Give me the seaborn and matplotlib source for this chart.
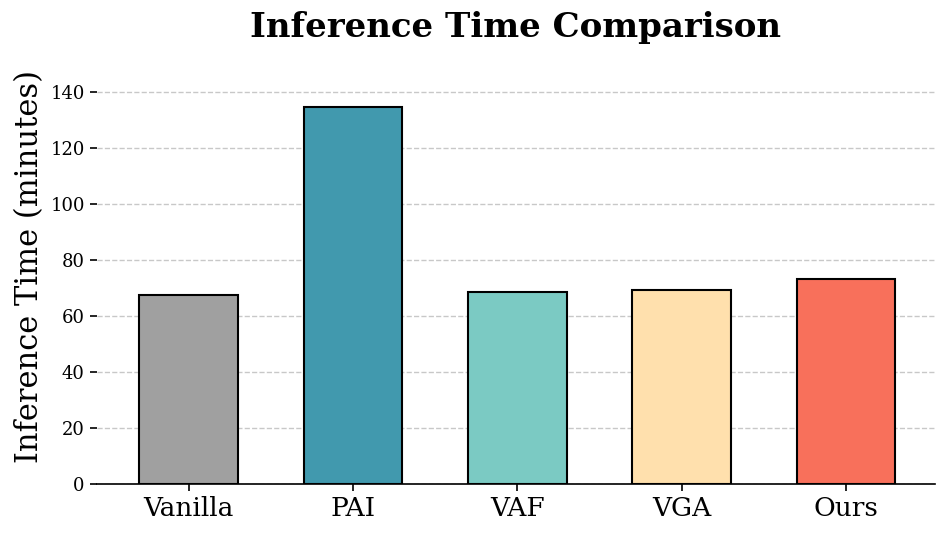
import pandas as pd
import matplotlib
matplotlib.use("Agg")
import matplotlib.pyplot as plt
import seaborn as sns

# data
methods = ["Vanilla", "PAI", "VAF", "VGA", "Ours"]
times = [67.5, 134.6, 68.6, 69.3, 73.3]
colors = ["#a0a0a0", "#4199ae", "#7bcac3", "#ffe0ad", "#f8705b"]

df = pd.DataFrame({"Method": methods, "Time": times})

sns.set_style("white")
plt.rcParams["font.family"] = ["DejaVu Serif"]
plt.rcParams["text.color"] = "black"
plt.rcParams["axes.labelcolor"] = "black"
plt.rcParams["xtick.color"] = "black"
plt.rcParams["ytick.color"] = "black"

fig, ax = plt.subplots(figsize=(9.47, 5.37), dpi=100)
sns.barplot(data=df, x="Method", y="Time", hue="Method", palette=colors,
            width=0.6, edgecolor="black", linewidth=1.5, saturation=1,
            legend=False, ax=ax, zorder=3)

ax.set_ylim(0, 155)
ax.set_xlim(-0.56, 4.54)
ax.set_yticks(range(0, 141, 20))
ax.yaxis.grid(True, linestyle="--", color="#c8c8c8", linewidth=1, zorder=0)
ax.set_axisbelow(True)

sns.despine(ax=ax, left=True)
ax.tick_params(axis="y", left=True, length=5, width=1.2, labelsize=13)
ax.tick_params(axis="x", bottom=True, length=5, width=1.2, labelsize=19)
ax.spines["bottom"].set_linewidth(1.2)
ax.spines["bottom"].set_color("black")

ax.set_title("Inference Time Comparison", fontsize=24.5, fontweight="bold", pad=9)
ax.set_xlabel("")
ax.set_ylabel("Inference Time (minutes)", fontsize=22)

plt.subplots_adjust(left=0.102, right=0.987, bottom=0.099, top=0.907)
plt.savefig("out.png")
